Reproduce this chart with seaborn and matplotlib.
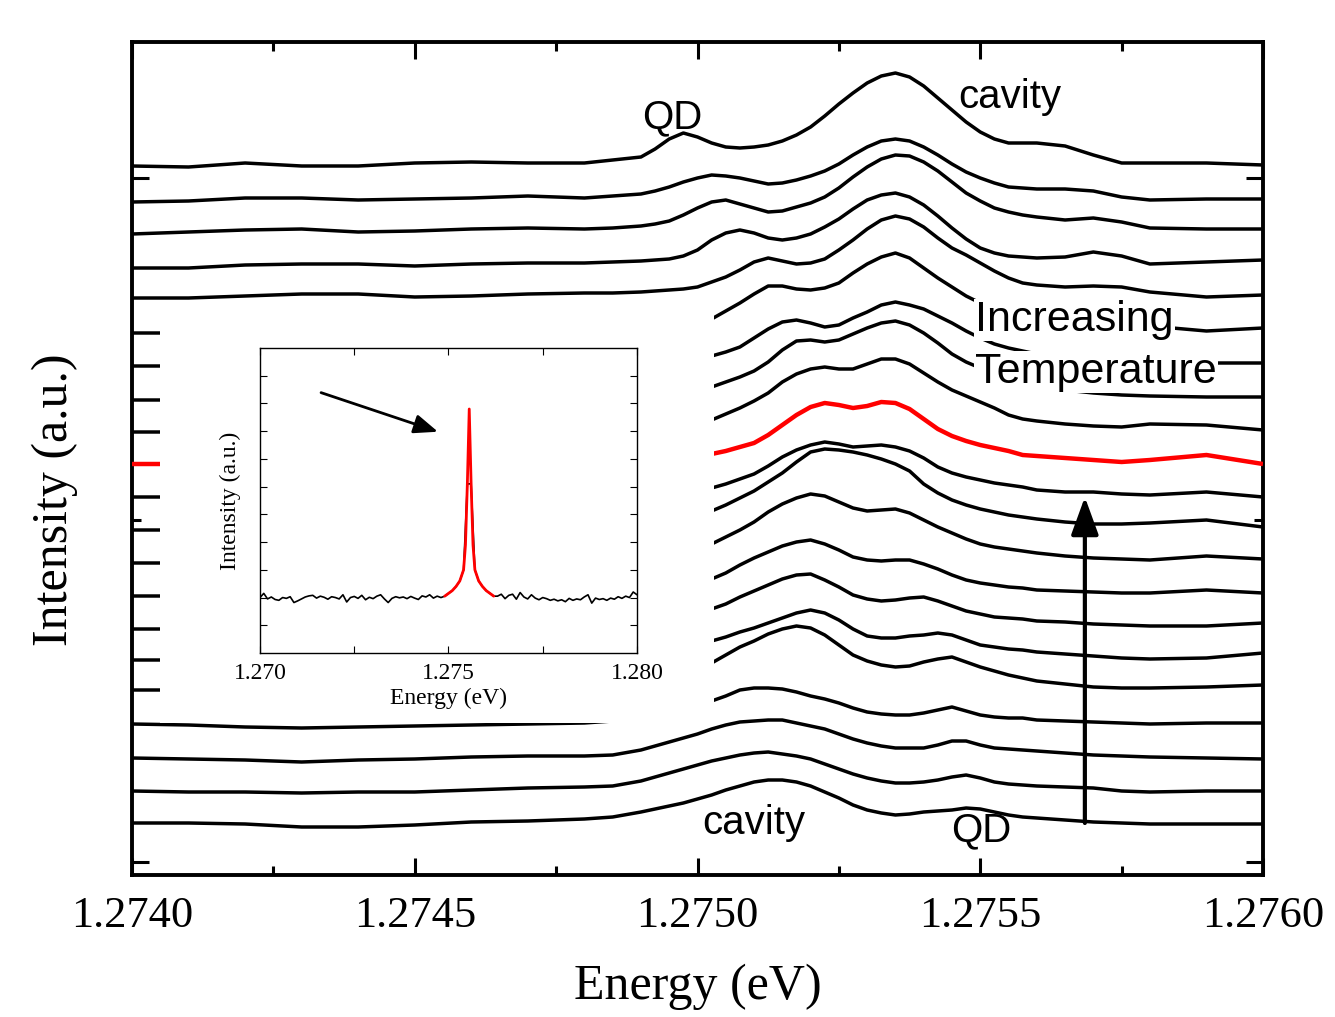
import numpy as np
import pandas as pd
import matplotlib
matplotlib.use("Agg")
import matplotlib.pyplot as plt
from matplotlib.patches import Rectangle
from matplotlib.ticker import FixedLocator, FormatStrFormatter
import seaborn as sns

# ---------------- data: main panel (stacked spectra, a.u.) ----------------
energy = [1.27400, 1.27410, 1.27420, 1.27430, 1.27440, 1.27450, 1.27460, 1.27470,
          1.27480, 1.27485,
          1.274900, 1.274925, 1.274950, 1.274975, 1.275000, 1.275025, 1.275050,
          1.275075, 1.275100, 1.275125, 1.275150, 1.275175, 1.275200, 1.275225,
          1.275250, 1.275275, 1.275300, 1.275325, 1.275350, 1.275375, 1.275400,
          1.275425, 1.275450, 1.275475, 1.275500, 1.275525, 1.275550, 1.275575,
          1.275600,
          1.27565, 1.27570, 1.27575, 1.27580, 1.27590, 1.27600]

spec_01 = [734, 733, 737, 734, 734, 737, 738, 737, 737, 740,
           743, 751, 761, 767, 763, 757, 753, 752, 753, 755, 759, 765, 773, 784, 796,
           807, 817, 824, 827, 823, 814, 802, 790, 778, 768, 761, 757, 757, 757,
           754, 745, 737, 737, 737, 735]
spec_02 = [698, 699, 702, 702, 700, 701, 702, 704, 702, 704,
           706, 709, 713, 718, 722, 725, 724, 722, 719, 716, 717, 720, 724, 729, 736,
           745, 753, 759, 761, 759, 753, 745, 736, 728, 722, 717, 713, 712, 711,
           711, 709, 703, 700, 701, 701]
spec_03 = [666, 668, 670, 671, 668, 669, 671, 672, 671, 672,
           674, 676, 679, 685, 692, 698, 700, 696, 692, 688, 689, 693, 697, 703, 712,
           723, 733, 741, 745, 744, 738, 729, 718, 707, 699, 692, 688, 685, 683,
           680, 682, 678, 672, 671, 671]
spec_04 = [632, 632, 635, 636, 636, 634, 636, 637, 637, 638,
           639, 640, 641, 644, 650, 660, 667, 670, 667, 662, 660, 662, 666, 673, 681,
           691, 700, 705, 707, 703, 695, 684, 672, 661, 652, 647, 644, 643, 642,
           643, 648, 644, 636, 638, 640]
spec_05 = [602, 602, 604, 606, 606, 603, 604, 606, 607, 607,
           608, 609, 610, 611, 613, 618, 623, 630, 638, 642, 639, 636, 637, 641, 650,
           660, 671, 680, 684, 681, 673, 662, 652, 645, 637, 629, 622, 617, 615,
           613, 614, 613, 608, 603, 605]
spec_06 = [567, 567, 567, 567, 567, 567, 567, 567, 567, 569,
           571, 572, 574, 576, 578, 581, 589, 597, 606, 614, 614, 611, 610, 612, 617,
           627, 636, 643, 647, 642, 632, 622, 613, 604, 597, 591, 587, 583, 580,
           577, 575, 574, 574, 569, 572]
spec_07 = [534, 534, 534, 534, 534, 534, 534, 534, 534, 536,
           538, 539, 540, 541, 542, 544, 548, 553, 562, 571, 578, 580, 577, 573, 575,
           582, 588, 595, 598, 595, 591, 584, 577, 569, 562, 556, 552, 549, 546,
           543, 541, 540, 539, 537, 537]
spec_08 = [500, 500, 500, 500, 500, 500, 500, 500, 500, 503,
           505, 506, 508, 509, 511, 513, 518, 523, 529, 538, 550, 559, 560, 558, 560,
           566, 572, 577, 579, 575, 567, 557, 546, 538, 532, 526, 522, 518, 514,
           510, 507, 505, 504, 503, 503]
spec_09 = [468, 468, 468, 468, 468, 468, 468, 468, 468, 470,
           472, 473, 475, 476, 478, 480, 486, 492, 499, 507, 518, 526, 531, 533, 531,
           531, 536, 541, 541, 536, 527, 518, 510, 504, 498, 492, 485, 481, 479,
           476, 474, 473, 476, 475, 470]
spec_10 = [436, 436, 436, 436, 436, 436, 436, 436, 436, 438,
           439, 440, 441, 442, 444, 446, 449, 453, 457, 465, 475, 485, 493, 497, 495,
           492, 494, 498, 497, 491, 481, 471, 464, 459, 455, 452, 449, 445, 444,
           442, 440, 438, 440, 445, 436]
spec_11 = [403, 403, 403, 403, 403, 403, 403, 403, 403, 405,
           406, 407, 408, 409, 410, 412, 416, 421, 426, 434, 443, 450, 455, 458, 456,
           453, 454, 455, 453, 449, 442, 433, 427, 423, 420, 417, 415, 413, 410,
           408, 408, 406, 405, 408, 403]
spec_12 = [370, 370, 370, 370, 370, 370, 370, 370, 370, 373,
           375, 377, 379, 382, 384, 389, 395, 402, 409, 418, 427, 438, 448, 451, 450,
           448, 445, 441, 436, 429, 416, 407, 400, 395, 391, 388, 385, 383, 381,
           378, 376, 376, 377, 380, 373]
spec_13 = [337, 337, 337, 337, 337, 337, 337, 337, 337, 340,
           343, 345, 348, 351, 353, 356, 363, 370, 378, 388, 396, 402, 406, 404, 398,
           392, 389, 390, 391, 387, 380, 373, 367, 361, 356, 353, 351, 349, 347,
           344, 342, 341, 340, 344, 341]
spec_14 = [304, 304, 304, 304, 304, 304, 304, 304, 304, 306,
           309, 311, 313, 316, 318, 321, 327, 335, 342, 348, 354, 358, 360, 356, 350,
           343, 340, 339, 340, 340, 336, 331, 325, 320, 317, 315, 313, 312, 310,
           309, 308, 307, 307, 310, 307]
spec_15 = [271, 271, 271, 271, 271, 271, 271, 271, 271, 274,
           278, 280, 282, 285, 287, 291, 296, 303, 309, 315, 321, 325, 326, 320, 313,
           305, 301, 299, 300, 302, 303, 299, 294, 289, 286, 283, 282, 281, 279,
           278, 276, 275, 274, 274, 277]
spec_16 = [240, 240, 240, 240, 240, 240, 240, 240, 240, 243,
           247, 249, 251, 253, 255, 259, 263, 268, 272, 277, 282, 287, 290, 287, 280,
           271, 264, 262, 262, 264, 265, 267, 265, 260, 255, 253, 251, 250, 248,
           246, 244, 242, 241, 242, 247]
spec_17 = [210, 210, 210, 210, 210, 210, 210, 210, 210, 212,
           216, 219, 222, 226, 230, 237, 245, 253, 259, 266, 271, 274, 272, 265, 255,
           245, 239, 235, 233, 234, 238, 241, 243, 238, 233, 229, 225, 222, 219,
           216, 213, 212, 212, 213, 215]
spec_18 = [176, 175, 173, 172, 173, 174, 175, 176, 177, 179,
           184, 187, 190, 193, 196, 199, 204, 210, 212, 212, 211, 208, 204, 201, 197,
           192, 188, 186, 185, 185, 187, 190, 193, 189, 185, 183, 182, 182, 180,
           179, 178, 177, 176, 177, 177]
spec_19 = [142, 141, 140, 138, 140, 141, 143, 144, 144, 145,
           150, 154, 158, 162, 166, 171, 175, 178, 179, 180, 180, 177, 174, 171, 166,
           161, 157, 154, 152, 152, 152, 155, 159, 159, 155, 152, 151, 150, 149,
           147, 145, 144, 143, 142, 141]
spec_20 = [109, 108, 108, 107, 108, 108, 110, 112, 113, 114,
           119, 123, 127, 131, 135, 139, 142, 145, 147, 148, 146, 144, 141, 136, 131,
           126, 122, 119, 117, 117, 118, 120, 123, 125, 122, 118, 116, 115, 114,
           113, 112, 109, 108, 109, 109]
spec_21 = [77, 77, 76, 73, 73, 75, 78, 79, 81, 83,
           88, 91, 94, 97, 101, 105, 110, 114, 118, 120, 120, 118, 114, 108, 102,
           95, 90, 87, 85, 86, 88, 89, 90, 92, 91, 88, 85, 83, 82,
           80, 78, 77, 76, 76, 76]

spectra = [spec_01, spec_02, spec_03, spec_04, spec_05, spec_06, spec_07,
           spec_08, spec_09, spec_10, spec_11, spec_12, spec_13, spec_14,
           spec_15, spec_16, spec_17, spec_18, spec_19, spec_20, spec_21]
highlight = 9          # index of the red (resonance) spectrum

main_xticks = [1.2740, 1.2745, 1.2750, 1.2755, 1.2760]
main_xminor = [1.27425, 1.27475, 1.27525, 1.27575]
main_yticks = [38, 722]
main_yminor = [380]

# ---------------- data: inset (single spectrum + Lorentzian fit) ----------------
inset_counts = [2.00, 2.15, 1.95, 2.02, 1.93, 1.90, 2.00, 1.97, 2.03, 1.82,
                1.88, 1.95, 2.02, 2.06, 2.08, 1.98, 2.05, 2.01, 1.94, 2.03,
                2.00, 1.95, 2.10, 1.84, 2.00, 2.04, 1.97, 2.08, 1.92, 2.01,
                1.96, 2.05, 2.10, 1.95, 1.82, 1.97, 2.03, 1.99, 2.02, 1.96,
                2.04, 1.98, 1.93, 2.06, 2.02, 2.10, 1.98, 2.05, 2.00, 2.05,
                2.15, 2.25, 2.40, 2.60, 3.00, 6.10, 6.10, 3.00, 2.60, 2.40,
                2.25, 2.15, 2.05, 2.05, 2.12, 1.96, 2.08, 2.12, 1.94, 2.18,
                2.02, 1.95, 2.10, 1.98, 1.92, 2.00, 1.96, 1.90, 1.94, 1.88,
                1.92, 1.85, 1.97, 1.90, 1.95, 1.92, 2.02, 2.10, 1.80, 1.98,
                1.93, 1.96, 1.90, 1.98, 1.94, 2.03, 1.97, 2.05, 2.00, 2.20,
                2.10]
inset_energy = np.linspace(1.2700, 1.2800, len(inset_counts))

fit_energy = [1.27490, 1.27500, 1.27510, 1.27520, 1.27530, 1.27540, 1.27545,
              1.27550, 1.27555, 1.27560, 1.27565, 1.27570, 1.27580, 1.27590,
              1.27600, 1.27610, 1.27620]
fit_counts = [2.05, 2.15, 2.25, 2.40, 2.60, 3.00, 3.90, 6.10, 8.80, 6.10,
              3.90, 3.00, 2.60, 2.40, 2.25, 2.15, 2.05]

inset_xticks = [1.270, 1.275, 1.280]
inset_xminor = [1.2725, 1.2775]
inset_yticks = [1, 2, 3, 4, 5, 6, 7, 8, 9, 10]

# ---------------- build tables ----------------
rows = []
for k, vals in enumerate(spectra):
    assert len(vals) == len(energy), (k, len(vals), len(energy))
    for e, v in zip(energy, vals):
        rows.append({"energy": e, "intensity": v, "spectrum": k})
df = pd.DataFrame(rows)
df_black = df[df["spectrum"] != highlight]
df_red = df[df["spectrum"] == highlight]

df_inset = pd.DataFrame({"energy": inset_energy, "counts": inset_counts})
df_fit = pd.DataFrame({"energy": fit_energy, "counts": fit_counts})

# ---------------- style ----------------
sns.set_style("ticks")
plt.rcParams["font.family"] = ["Liberation Serif", "DejaVu Serif"]
plt.rcParams.update({"text.color": "black", "axes.labelcolor": "black",
                     "xtick.color": "black", "ytick.color": "black",
                     "axes.edgecolor": "black"})
SANS = ["Liberation Sans", "DejaVu Sans"]

W, H = 1335, 1017
fig = plt.figure(figsize=(W / 100, H / 100), dpi=100)
ax = fig.add_axes([132 / W, 1 - 875 / H, (1263 - 132) / W, (875 - 42) / H])

line_kw = dict(solid_joinstyle="round", solid_capstyle="butt")
sns.lineplot(data=df_black, x="energy", y="intensity", units="spectrum",
             estimator=None, sort=False, color="black", linewidth=2.5,
             legend=False, ax=ax, zorder=2, **line_kw)
sns.lineplot(data=df_red, x="energy", y="intensity", units="spectrum",
             estimator=None, sort=False, color="#ff0000", linewidth=3.2,
             legend=False, ax=ax, zorder=3, **line_kw)

ax.set_xlim(1.2740, 1.2760)
ax.set_ylim(25, 858)
ax.xaxis.set_major_locator(FixedLocator(main_xticks))
ax.xaxis.set_minor_locator(FixedLocator(main_xminor))
ax.xaxis.set_major_formatter(FormatStrFormatter("%.4f"))
ax.yaxis.set_major_locator(FixedLocator(main_yticks))
ax.yaxis.set_minor_locator(FixedLocator(main_yminor))
ax.tick_params(axis="both", which="both", direction="in", top=True, right=True,
               width=2.2, color="black")
ax.tick_params(axis="both", which="major", length=12)
ax.tick_params(axis="both", which="minor", length=6.5)
ax.tick_params(axis="x", labelsize=32, pad=15, labelcolor="black")
ax.tick_params(axis="y", which="both", labelleft=False)
for s in ax.spines.values():
    s.set_linewidth(2.8)
    s.set_color("black")

ax.set_xlabel("Energy (eV)", fontsize=36, color="black")
ax.set_ylabel("Intensity (a.u.)", fontsize=36, color="black")
ax.xaxis.set_label_coords(0.5, -0.106)
ax.yaxis.set_label_coords(-0.048, 0.45)

# white panel behind the inset
ax.add_patch(Rectangle((160 / W, 1 - 723 / H), (714 - 160) / W, (723 - 312) / H,
                       transform=fig.transFigure, facecolor="white",
                       edgecolor="none", zorder=4))

# annotations
tkw = dict(ha="center", va="center", fontsize=29, family=SANS, color="black", zorder=6)
ax.text(1.274955, 783, "QD", **tkw)
ax.text(1.275553, 803, "cavity", **tkw)
ax.text(1.275100, 77, "cavity", **tkw)
ax.text(1.275501, 70, "QD", **tkw)
box = dict(facecolor="white", edgecolor="none", pad=1)
ax.text(1.275491, 580, "Increasing", ha="left", va="center", fontsize=31,
        family=SANS, color="black", bbox=box, zorder=6)
ax.text(1.275491, 528, "Temperature", ha="left", va="center", fontsize=31,
        family=SANS, color="black", bbox=box, zorder=6)
ax.annotate("", xy=(1.275685, 403), xytext=(1.275685, 77),
            arrowprops=dict(arrowstyle="-|>,head_length=0.55,head_width=0.2",
                            color="black", lw=3, mutation_scale=42,
                            shrinkA=0, shrinkB=0), zorder=5)

# ---------------- inset ----------------
axi = fig.add_axes([260 / W, 1 - 653 / H, (637 - 260) / W, (653 - 348) / H])
axi.set_facecolor("white")
sns.lineplot(data=df_inset, x="energy", y="counts", color="black", linewidth=1.2,
             estimator=None, sort=False, legend=False, ax=axi)
sns.lineplot(data=df_fit, x="energy", y="counts", color="#ff0000", linewidth=2.0,
             estimator=None, sort=False, legend=False, ax=axi)
axi.set_xlim(1.270, 1.280)
axi.set_ylim(0, 11)
axi.xaxis.set_major_locator(FixedLocator(inset_xticks))
axi.xaxis.set_minor_locator(FixedLocator(inset_xminor))
axi.xaxis.set_major_formatter(FormatStrFormatter("%.3f"))
axi.yaxis.set_major_locator(FixedLocator(inset_yticks))
axi.tick_params(axis="both", which="both", direction="in", top=True, right=True,
                length=5, width=0.8, color="black")
axi.tick_params(axis="x", labelsize=17, pad=7, labelcolor="black")
axi.tick_params(axis="y", labelleft=False)
for s in axi.spines.values():
    s.set_linewidth(1.0)
    s.set_color("black")
axi.set_xlabel("Energy (eV)", fontsize=17, labelpad=3, color="black")
axi.set_ylabel("Intensity (a.u.)", fontsize=17, labelpad=14, color="black")
axi.annotate("", xy=(1.27472, 7.98), xytext=(1.27162, 9.39),
             arrowprops=dict(arrowstyle="-|>,head_length=0.5,head_width=0.2",
                             color="black", lw=2, mutation_scale=29,
                             shrinkA=0, shrinkB=0))

fig.savefig("out.png", dpi=100)
